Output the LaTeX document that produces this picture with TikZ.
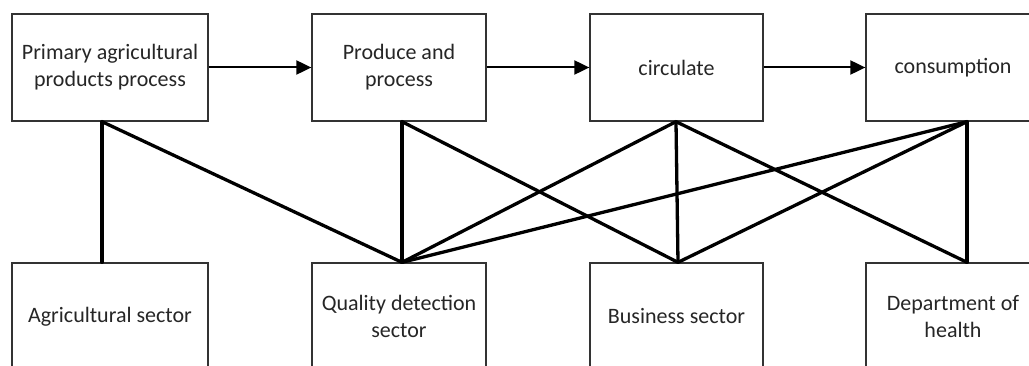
\documentclass[tikz,border=0pt]{standalone}
\usepackage{fontspec}
\setmainfont{Carlito}
\usetikzlibrary{arrows.meta}
\begin{document}
\begin{tikzpicture}[x=1pt,y=-1pt,
  box/.style={draw=black!80, line width=1.3pt, minimum height=107pt, inner sep=0pt, align=center,
    font=\fontsize{22}{27}\selectfont, text=black!85},
  flow/.style={line width=2pt, -{Triangle[length=15pt,width=14pt]}},
  link/.style={line width=3.3pt, line cap=round}]
\useasboundingbox (0,0) rectangle (1029,366);
\clip (0,0) rectangle (1029,366);
\fill[white] (0,0) rectangle (1029,366);
\node[box, minimum width=196pt] (p1) at (110,67.5) {Primary agricultural\\products process};
\node[box, minimum width=174pt] (p2) at (399,67.5) {Produce and\\process};
\node[box, minimum width=173pt] (p3) at (676.5,67.5) {circulate};
\node[box, minimum width=174pt] (p4) at (953,67.5) {consumption};
\node[box, minimum width=196pt] (s1) at (110,316.5) {Agricultural sector};
\node[box, minimum width=174pt] (s2) at (399,316.5) {Quality detection\\sector};
\node[box, minimum width=173pt] (s3) at (676.5,316.5) {Business sector};
\node[box, minimum width=174pt] (s4) at (953,316.5) {Department of\\health};
\draw[flow] (p1.east) -- (p2.west);
\draw[flow] (p2.east) -- (p3.west);
\draw[flow] (p3.east) -- (p4.west);
\coordinate (p1b) at ([xshift=-8pt]p1.south);
\coordinate (p2b) at ([xshift=3pt]p2.south);
\coordinate (p3b) at ([xshift=-0.5pt]p3.south);
\coordinate (p4b) at ([xshift=14pt]p4.south);
\coordinate (s1t) at ([xshift=-8pt]s1.north);
\coordinate (s2t) at ([xshift=3pt]s2.north);
\coordinate (s3t) at ([xshift=1.5pt]s3.north);
\coordinate (s4t) at ([xshift=14pt]s4.north);
\draw[link] (p1b) -- (s1t);
\draw[link] (p1b) -- (s2t);
\draw[link] (p2b) -- (s2t);
\draw[link] (p2b) -- (s3t);
\draw[link] (s2t) -- (p3b);
\draw[link] (s2t) -- (p4b);
\draw[link] (p3b) -- (s3t);
\draw[link] (p3b) -- (s4t);
\draw[link] (s3t) -- (p4b);
\draw[link] (p4b) -- (s4t);
\end{tikzpicture}
\end{document}
